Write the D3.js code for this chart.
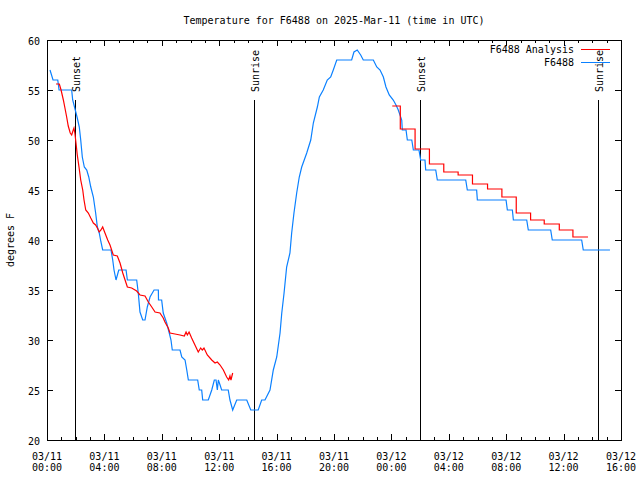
<!DOCTYPE html>
<html><head><meta charset="utf-8">
<script src="https://cdn.jsdelivr.net/npm/d3@7"></script>
<style>
body{margin:0;background:#fff}
text{font-family:"DejaVu Sans Mono",monospace;font-size:10px;fill:#000}
</style></head>
<body><svg id="c" width="640" height="480"></svg>
<script>
// ---- data (hours since 2025-03-11 00:00 UTC) ----
const titleText = "Temperature for F6488 on 2025-Mar-11 (time in UTC)";
const yLabel = "degrees F";
const seriesNames = ["F6488 Analysis", "F6488"];
const yTicks = [20,25,30,35,40,45,50,55,60];
const xTickHours = [0,4,8,12,16,20,24,28,32,36,40];

const obsHours = [0.21,0.42,0.75,0.84,1.72,1.79,1.97,2.11,2.25,2.35,2.46,2.6,2.77,2.91,3.05,3.23,3.39,3.51,3.64,3.76,3.88,4.46,4.58,4.67,4.81,5.0,5.51,5.6,6.25,6.36,6.48,6.67,6.83,6.99,7.18,7.46,7.76,7.77,7.99,8.1,8.34,8.52,8.64,8.73,9.27,9.39,9.62,9.74,9.85,10.5,10.61,10.78,10.85,11.24,11.48,11.66,11.78,11.87,11.94,12.06,12.17,12.63,12.75,12.94,13.22,13.92,14.2,14.72,14.96,15.19,15.54,15.77,16.01,16.24,16.36,16.52,16.7,16.93,17.05,17.21,17.4,17.58,17.75,18.1,18.38,18.56,18.84,18.98,19.25,19.53,19.77,19.95,20.19,21.23,21.39,21.62,21.86,22.04,22.74,22.98,23.21,23.44,23.62,23.85,24.13,24.32,24.48,24.72,24.76,25.02,25.11,25.42,25.53,25.92,26.04,26.34,26.39,27.09,27.2,29.18,29.29,29.94,29.99,31.99,32.08,32.43,32.5,33.43,33.54,35.1,35.21,37.26,37.37,39.23];
const obsTemps = [57,56,56,55,55,54,53,52.2,51.3,50,48.3,47.3,47,46.3,45.3,44.3,42.7,41.3,40.7,39.8,39,39,38,37,36,37,37,36,36,34.7,32.8,32,32,33.3,34.3,35,35,34,34,32.7,31.7,30.7,30,29,29,28.3,28,27,26,26,25,25,24,24,25,26,26,25,26,25.5,25,25,24,23,24,24,23,23,24,24,25,27,28.3,30.7,32.7,34.7,37.3,38.7,40.7,42.7,44.7,46.3,47.3,48.7,50,51.7,53.3,54.3,55,56,56.3,57,58,58,58.8,59,58.5,58,58,57.3,57,56.3,55.3,54.5,54,53.5,53,52,51,51,50,50,49,49,48,48,47,47,46,46,45,45,44,44,43,43,42,42,41,41,40,40,39,39];

const anaHours1 = [0.63,0.86,0.98,1.14,1.25,1.37,1.48,1.62,1.72,1.83,1.88,1.95,2.02,2.11,2.23,2.35,2.49,2.58,2.7,2.88,3.05,3.23,3.39,3.51,3.64,3.76,3.88,4.04,4.23,4.39,4.62,4.9,5.09,5.28,5.44,5.6,5.9,6.25,6.48,6.83,7.06,7.3,7.53,7.87,8.1,8.22,8.45,8.57,8.92,9.27,9.57,9.69,9.78,9.9,10.08,10.31,10.54,10.71,10.82,10.94,11.17,11.48,11.71,11.87,12.06,12.29,12.52,12.66,12.75,12.82,12.94];
const anaTemps1 = [55.6,55.6,55,54,53.2,52.3,51.4,50.7,50.5,51,51.2,50.6,49.7,48.5,47.3,46,45,44,43,42.7,42.2,41.7,41.5,41.2,40.8,41,41.3,40.7,40,39.5,38.5,38.4,37.7,36.7,36,35.3,35.2,34.9,34.5,34.4,33.8,33.3,32.8,32.7,32.2,31.8,31.2,30.7,30.6,30.5,30.4,30.8,30.5,30.8,30.2,29.5,28.8,29.2,29,29.2,28.5,28,27.7,27.8,27.5,27,26.3,26,26.4,26,26.7];

const anaHours2 = [24.06,24.62,25.65,26.65,27.65,28.65,29.65,30.7,31.7,32.7,33.7,34.65,35.7,36.65,37.7];
const anaTemps2 = [53.4,51.1,49.1,47.6,46.8,46.5,45.6,45.1,44.3,42.7,42.0,41.6,41.0,40.3,40.3];

const sunHours = [1.97,14.43,26.0,38.42];
const sunLabels = ["Sunset","Sunrise","Sunset","Sunrise"];

// ---- drawing ----
const t0 = Date.UTC(2025,2,11,0,0);
const toDate = h => new Date(t0 + h*3600000);
const svg = d3.select("#c");
const L=47, R=621, T=40, B=440;
const x = d3.scaleUtc().domain([toDate(0), toDate(40)]).range([L,R]);
const y = d3.scaleLinear().domain([20,60]).range([B,T]);
const red="#ff0000", blue="#0a80ff";

// ticks
const g = svg.append("g").attr("shape-rendering","crispEdges").attr("stroke","#000");
const minor = d3.range(0,41,1);
minor.forEach(h=>{
  const len = (h%4===0)?6:3;
  const px = Math.round(x(toDate(h)))+0.5;
  g.append("line").attr("x1",px).attr("x2",px).attr("y1",B).attr("y2",B-len);
  g.append("line").attr("x1",px).attr("x2",px).attr("y1",T).attr("y2",T+len);
});
yTicks.forEach(v=>{
  const py = Math.round(y(v))+0.5;
  g.append("line").attr("x1",L).attr("x2",L+6).attr("y1",py).attr("y2",py);
  g.append("line").attr("x1",R).attr("x2",R-6).attr("y1",py).attr("y2",py);
  svg.append("text").attr("x",L-7).attr("y",py+4).attr("text-anchor","end").text(v);
});
const fd = d3.utcFormat("%m/%d"), ft = d3.utcFormat("%H:%M");
xTickHours.forEach(h=>{
  const d = toDate(h), px = x(d);
  svg.append("text").attr("x",px).attr("y",460).attr("text-anchor","middle").text(fd(d));
  svg.append("text").attr("x",px).attr("y",471).attr("text-anchor","middle").text(ft(d));
});

// sun lines
sunHours.forEach((h,i)=>{
  const px = Math.round(x(toDate(h)))+0.5;
  g.append("line").attr("x1",px).attr("x2",px).attr("y1",y(54)).attr("y2",B);
  svg.append("text").attr("transform",`translate(${px+4},92) rotate(-90)`).text(sunLabels[i]);
});

// data lines
const line = d3.line().x(d=>x(toDate(d[0]))).y(d=>y(d[1]));
svg.append("path").attr("d", line(obsHours.map((h,i)=>[h,obsTemps[i]])))
  .attr("fill","none").attr("stroke",blue).attr("stroke-width",1.2);
svg.append("path").attr("d", line(anaHours1.map((h,i)=>[h,anaTemps1[i]])))
  .attr("fill","none").attr("stroke",red).attr("stroke-width",1.2);
const stepLine = d3.line().curve(d3.curveStepAfter).x(d=>x(toDate(d[0]))).y(d=>y(d[1]));
svg.append("path").attr("d", stepLine(anaHours2.map((h,i)=>[h,anaTemps2[i]])))
  .attr("fill","none").attr("stroke",red).attr("stroke-width",1.2);

// border
svg.append("rect").attr("x",L+0.5).attr("y",T+0.5).attr("width",R-L).attr("height",B-T)
  .attr("fill","none").attr("stroke","#000").attr("shape-rendering","crispEdges");

// title and labels
svg.append("text").attr("x",(L+R)/2).attr("y",24).attr("text-anchor","middle").text(titleText);
svg.append("text").attr("transform",`translate(14,${(T+B)/2}) rotate(-90)`).attr("text-anchor","middle").text(yLabel);

// legend
[red,blue].forEach((c,i)=>{
  const ly = 49 + i*13;
  svg.append("text").attr("x",574).attr("y",ly+4).attr("text-anchor","end").text(seriesNames[i]);
  svg.append("line").attr("x1",581).attr("x2",610).attr("y1",ly+0.5).attr("y2",ly+0.5)
    .attr("stroke",c).attr("stroke-width",1.2).attr("shape-rendering","crispEdges");
});
</script></body></html>
